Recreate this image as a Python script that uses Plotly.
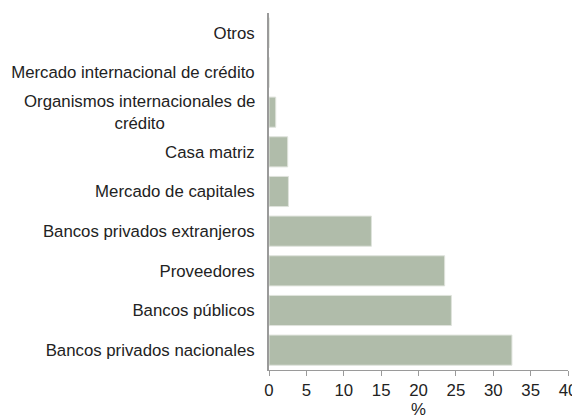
import plotly.graph_objects as go

categories = [
    "Bancos privados nacionales",
    "Bancos públicos",
    "Proveedores",
    "Bancos privados extranjeros",
    "Mercado de capitales",
    "Casa matriz",
    "Organismos internacionales de crédito",
    "Mercado internacional de crédito",
    "Otros",
]
values = [32.5, 24.4, 23.5, 13.7, 2.6, 2.5, 0.9, 0.0, 0.0]
tick_labels = [
    "Bancos privados nacionales",
    "Bancos públicos",
    "Proveedores",
    "Bancos privados extranjeros",
    "Mercado de capitales",
    "Casa matriz",
    "",
    "Mercado internacional de crédito",
    "Otros",
]
x_ticks = [0, 5, 10, 15, 20, 25, 30, 35, 40]

FONT = "Liberation Sans, Arial, Helvetica, sans-serif"
FS = 16.8
TXT = "#222222"

fig = go.Figure(
    go.Bar(
        x=values,
        y=categories,
        orientation="h",
        marker=dict(color="#b0bcaa", line=dict(color="#dfe3dc", width=1)),
    )
)

fig.add_annotation(
    x=0, xref="paper", xanchor="right", xshift=-12,
    y="Organismos internacionales de crédito", yref="y",
    text="Organismos internacionales de<br>crédito",
    showarrow=False, align="center",
    font=dict(family=FONT, size=FS, color=TXT),
)

# page body has an 8px default margin, so the figure is sized to fit inside it
fig.update_layout(
    width=572, height=411,
    margin=dict(l=261, r=12, t=5, b=49),
    paper_bgcolor="white", plot_bgcolor="white",
    bargap=0.24,
    showlegend=False,
    font=dict(family=FONT, size=FS, color=TXT),
)
fig.update_xaxes(
    range=[0, 40], tickvals=x_ticks, ticktext=[str(v) for v in x_ticks],
    showgrid=False, zeroline=False, automargin=False,
    showline=True, linecolor="#9a9a9a", linewidth=1,
    ticks="outside", ticklen=5, tickcolor="#9a9a9a",
    title=dict(text="%", standoff=4, font=dict(size=FS)),
    tickfont=dict(size=FS),
)
fig.update_yaxes(
    categoryorder="array", categoryarray=categories,
    tickvals=categories, ticktext=tick_labels,
    showgrid=False, zeroline=False, automargin=False,
    showline=True, linecolor="#9a9a9a", linewidth=2,
    ticks="", ticklabelstandoff=9,
    tickfont=dict(size=FS),
)

fig.write_html("out.html")
